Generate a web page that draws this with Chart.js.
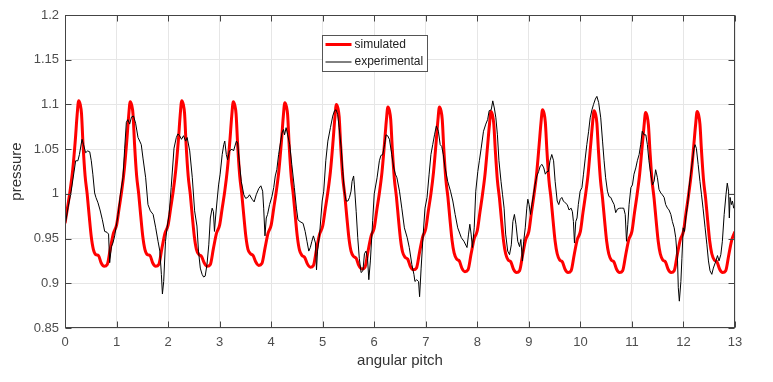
<!DOCTYPE html>
<html lang="en">
<head>
    <meta charset="UTF-8">
    <title>Pressure vs angular pitch</title>
    <script src="https://cdn.jsdelivr.net/npm/chart.js"></script>
    <style>
        html, body {
            margin: 0;
            padding: 0;
            background: #fff;
        }

        #wrap {
            width: 773px;
            height: 382px;
            position: relative;
        }
    </style>
</head>
<body>
    <div id="wrap"><canvas id="chart"></canvas></div>
    <script>
        // axis ticks
        const xTicks = [0, 1, 2, 3, 4, 5, 6, 7, 8, 9, 10, 11, 12, 13];
        const yTicks = [0.85, 0.9, 0.95, 1, 1.05, 1.1, 1.15, 1.2];

        // simulated: sample positions inside one angular pitch, then values per pitch
        const simPhase = [0, 0.05, 0.1, 0.15, 0.2, 0.235, 0.265, 0.295, 0.32, 0.35, 0.39,
                          0.43, 0.47, 0.51, 0.55, 0.6, 0.65, 0.7, 0.76, 0.82, 0.88, 0.94];
        const simCycles = [
            [0.967, 0.985, 1.004, 1.027, 1.06, 1.088, 1.104, 1.1, 1.09, 1.055, 1.02, 1.0, 0.975, 0.952, 0.938, 0.932, 0.931, 0.923, 0.919, 0.921, 0.939, 0.956],
            [0.965, 0.984, 1.003, 1.027, 1.06, 1.087, 1.103, 1.099, 1.089, 1.055, 1.02, 1.0, 0.975, 0.952, 0.938, 0.932, 0.931, 0.923, 0.919, 0.921, 0.939, 0.956],
            [0.965, 0.984, 1.003, 1.027, 1.06, 1.088, 1.104, 1.1, 1.09, 1.055, 1.02, 1.0, 0.975, 0.952, 0.938, 0.932, 0.93, 0.923, 0.919, 0.921, 0.939, 0.956],
            [0.965, 0.984, 1.003, 1.027, 1.06, 1.087, 1.103, 1.099, 1.089, 1.055, 1.02, 1.0, 0.975, 0.952, 0.938, 0.933, 0.931, 0.924, 0.92, 0.922, 0.939, 0.956],
            [0.965, 0.984, 1.003, 1.026, 1.059, 1.086, 1.102, 1.098, 1.088, 1.054, 1.019, 0.999, 0.974, 0.951, 0.937, 0.931, 0.929, 0.922, 0.918, 0.92, 0.938, 0.955],
            [0.964, 0.983, 1.002, 1.025, 1.058, 1.084, 1.1, 1.096, 1.086, 1.053, 1.018, 0.998, 0.973, 0.95, 0.936, 0.93, 0.928, 0.92, 0.916, 0.918, 0.936, 0.953],
            [0.962, 0.982, 1.001, 1.024, 1.057, 1.082, 1.097, 1.093, 1.083, 1.051, 1.017, 0.997, 0.972, 0.949, 0.935, 0.929, 0.927, 0.919, 0.915, 0.917, 0.935, 0.952],
            [0.961, 0.981, 1.0, 1.024, 1.057, 1.082, 1.097, 1.093, 1.083, 1.05, 1.016, 0.996, 0.971, 0.948, 0.934, 0.927, 0.925, 0.917, 0.913, 0.915, 0.933, 0.95],
            [0.959, 0.979, 0.999, 1.022, 1.054, 1.077, 1.092, 1.088, 1.078, 1.048, 1.015, 0.995, 0.97, 0.947, 0.933, 0.926, 0.924, 0.916, 0.912, 0.914, 0.932, 0.949],
            [0.958, 0.979, 0.999, 1.022, 1.055, 1.079, 1.094, 1.09, 1.08, 1.049, 1.015, 0.995, 0.97, 0.947, 0.933, 0.926, 0.924, 0.916, 0.912, 0.914, 0.932, 0.949],
            [0.958, 0.979, 0.999, 1.022, 1.055, 1.078, 1.093, 1.089, 1.079, 1.049, 1.015, 0.995, 0.97, 0.947, 0.933, 0.926, 0.924, 0.916, 0.912, 0.914, 0.932, 0.949],
            [0.958, 0.979, 0.999, 1.022, 1.054, 1.076, 1.091, 1.087, 1.077, 1.048, 1.015, 0.995, 0.97, 0.947, 0.933, 0.926, 0.924, 0.916, 0.912, 0.914, 0.932, 0.949],
            [0.958, 0.979, 0.999, 1.022, 1.054, 1.077, 1.092, 1.088, 1.078, 1.048, 1.015, 0.995, 0.97, 0.947, 0.933, 0.926, 0.924, 0.916, 0.912, 0.914, 0.932, 0.949]
        ];
        const simEnd = 0.958;

        // experimental trace
        const expX = [
            0, 0.06, 0.12, 0.207, 0.25, 0.28, 0.33, 0.36, 0.4, 0.44, 0.48, 0.51, 0.54, 0.575, 0.6, 0.64, 0.68, 0.725, 0.77, 0.815, 0.845, 0.867, 0.9, 0.93, 0.964,
            1.03, 1.074, 1.125, 1.158, 1.19, 1.22, 1.255, 1.29, 1.33, 1.37, 1.417, 1.45, 1.48, 1.513, 1.565, 1.61, 1.656, 1.71, 1.76, 1.805, 1.84, 1.87, 1.89, 1.915, 1.95, 1.98,
            2.02, 2.06, 2.115, 2.16, 2.19, 2.225, 2.26, 2.3, 2.34, 2.37, 2.42, 2.47, 2.515, 2.56, 2.59, 2.625, 2.66, 2.69, 2.72, 2.755, 2.79, 2.82, 2.855, 2.88, 2.9, 2.92, 2.95, 2.98,
            3.01, 3.05, 3.08, 3.1, 3.13, 3.155, 3.19, 3.24, 3.27, 3.325, 3.35, 3.38, 3.42, 3.47, 3.505, 3.545, 3.58, 3.63, 3.67, 3.71, 3.76, 3.8, 3.835, 3.855, 3.88, 3.905, 3.93, 3.97,
            4.015, 4.05, 4.08, 4.11, 4.145, 4.18, 4.21, 4.24, 4.26, 4.29, 4.32, 4.36, 4.4, 4.45, 4.49, 4.52, 4.56, 4.62, 4.66, 4.695, 4.73, 4.76, 4.79, 4.82, 4.86, 4.88, 4.9, 4.94, 4.99,
            5.02, 5.06, 5.1, 5.15, 5.195, 5.23, 5.26, 5.29, 5.32, 5.36, 5.39, 5.42, 5.455, 5.49, 5.52, 5.55, 5.57, 5.6, 5.615, 5.65, 5.68, 5.71, 5.745, 5.78, 5.81, 5.84, 5.87, 5.895, 5.925, 5.97,
            6.0, 6.055, 6.1, 6.13, 6.165, 6.2, 6.23, 6.26, 6.295, 6.34, 6.38, 6.41, 6.44, 6.49, 6.535, 6.585, 6.64, 6.68, 6.73, 6.77, 6.79, 6.825, 6.86, 6.88, 6.91, 6.95, 6.985,
            7.025, 7.065, 7.1, 7.135, 7.17, 7.205, 7.245, 7.28, 7.31, 7.34, 7.375, 7.425, 7.48, 7.525, 7.57, 7.62, 7.69, 7.74, 7.8, 7.83, 7.855, 7.88, 7.905, 7.94, 7.97,
            8.01, 8.04, 8.075, 8.12, 8.165, 8.2, 8.23, 8.27, 8.3, 8.33, 8.36, 8.39, 8.42, 8.46, 8.49, 8.52, 8.55, 8.59, 8.625, 8.66, 8.69, 8.72, 8.75, 8.785, 8.82, 8.845, 8.875, 8.9, 8.93, 8.96, 8.98,
            9.005, 9.03, 9.06, 9.09, 9.12, 9.155, 9.19, 9.22, 9.255, 9.29, 9.32, 9.35, 9.38, 9.41, 9.445, 9.48, 9.51, 9.55, 9.58, 9.61, 9.64, 9.67, 9.705, 9.745, 9.78, 9.82, 9.845, 9.865, 9.885, 9.91, 9.935, 9.96, 9.995,
            10.03, 10.06, 10.095, 10.125, 10.16, 10.19, 10.225, 10.255, 10.29, 10.32, 10.355, 10.395, 10.43, 10.46, 10.49, 10.525, 10.555, 10.59, 10.62, 10.655, 10.685, 10.72, 10.765, 10.8, 10.84, 10.87, 10.895, 10.92, 10.945, 10.98,
            11.01, 11.04, 11.075, 11.105, 11.14, 11.17, 11.2, 11.235, 11.27, 11.3, 11.33, 11.365, 11.4, 11.43, 11.46, 11.495, 11.525, 11.56, 11.59, 11.625, 11.655, 11.69, 11.72, 11.755, 11.785, 11.82, 11.85, 11.885, 11.9, 11.92, 11.95, 11.97, 11.995,
            12.02, 12.045, 12.08, 12.11, 12.14, 12.175, 12.205, 12.225, 12.25, 12.285, 12.32, 12.35, 12.38, 12.42, 12.455, 12.485, 12.515, 12.55, 12.58, 12.63, 12.66, 12.69, 12.725, 12.755, 12.79, 12.825, 12.85, 12.875, 12.89, 12.905, 12.93, 12.95, 12.975, 13.0
        ];
        const expY = [
            0.964, 0.985, 1.003, 1.037, 1.037, 1.044, 1.061, 1.055, 1.046, 1.048, 1.047, 1.037, 1.022, 1.001, 0.996, 0.99, 0.982, 0.971, 0.958, 0.957, 0.955, 0.923, 0.941, 0.945, 0.953,
            0.977, 0.999, 1.018, 1.051, 1.08, 1.083, 1.078, 1.086, 1.087, 1.079, 1.063, 1.059, 1.055, 1.04, 1.018, 0.988, 0.981, 0.977, 0.962, 0.947, 0.936, 0.91, 0.888, 0.902, 0.947, 0.962,
            0.977, 1.007, 1.051, 1.063, 1.067, 1.065, 1.061, 1.065, 1.059, 1.063, 1.048, 1.018, 0.981, 0.964, 0.936, 0.917, 0.91, 0.907, 0.908, 0.921, 0.943, 0.973, 0.984, 0.98, 0.958, 0.973, 0.992, 1.01,
            1.022, 1.044, 1.055, 1.059, 1.044, 1.038, 1.048, 1.05, 1.048, 1.059, 1.057, 1.037, 1.014, 0.999, 0.995, 0.996, 0.999, 0.994, 0.991, 0.999, 1.006, 1.009, 1.003, 0.984, 0.953, 0.973, 0.977, 0.988,
            0.997, 1.007, 1.02, 1.027, 1.044, 1.057, 1.068, 1.072, 1.066, 1.074, 1.066, 1.055, 1.033, 1.007, 0.984, 0.971, 0.969, 0.967, 0.958, 0.947, 0.936, 0.94, 0.947, 0.953, 0.945, 0.915, 0.936, 0.955, 0.992,
            1.003, 1.037, 1.059, 1.074, 1.087, 1.093, 1.094, 1.089, 1.074, 1.051, 1.025, 1.003, 0.992, 0.992, 0.996, 1.003, 1.014, 1.02, 1.01, 0.98, 0.951, 0.928, 0.912, 0.914, 0.933, 0.936, 0.928, 0.904, 0.925, 0.97,
            1.0, 1.018, 1.037, 1.043, 1.044, 1.055, 1.066, 1.065, 1.061, 1.044, 1.029, 1.022, 1.018, 1.003, 0.984, 0.962, 0.951, 0.94, 0.921, 0.91, 0.902, 0.904, 0.902, 0.885, 0.917, 0.955, 0.984,
            0.996, 1.022, 1.044, 1.055, 1.066, 1.076, 1.07, 1.055, 1.053, 1.044, 1.029, 1.014, 1.003, 0.992, 0.977, 0.962, 0.951, 0.947, 0.94, 0.955, 0.966, 0.955, 0.94, 0.962, 1.003,
            1.025, 1.037, 1.051, 1.07, 1.078, 1.083, 1.093, 1.094, 1.104, 1.096, 1.085, 1.066, 1.037, 1.014, 0.999, 0.984, 0.955, 0.936, 0.932, 0.943, 0.969, 0.977, 0.966, 0.947, 0.941, 0.949, 0.925, 0.947, 0.962, 0.984, 0.994,
            0.988, 0.977, 0.988, 0.999, 1.01, 1.02, 1.025, 1.031, 1.033, 1.029, 1.022, 1.025, 1.025, 1.037, 1.044, 1.037, 1.014, 0.992, 0.988, 0.994, 0.996, 0.992, 0.99, 0.988, 0.982, 0.984, 0.98, 0.969, 0.945, 0.969, 0.973, 0.988, 1.003,
            1.007, 1.022, 1.04, 1.055, 1.07, 1.085, 1.094, 1.1, 1.106, 1.109, 1.102, 1.085, 1.059, 1.037, 1.018, 1.003, 0.997, 0.996, 0.992, 0.988, 0.979, 0.983, 0.984, 0.984, 0.984, 0.977, 0.947, 0.966, 0.988, 1.007,
            1.01, 1.022, 1.029, 1.037, 1.044, 1.055, 1.07, 1.066, 1.066, 1.055, 1.037, 1.022, 1.01, 1.014, 1.027, 1.018, 1.005, 1.001, 0.999, 0.996, 0.988, 0.984, 0.982, 0.977, 0.969, 0.962, 0.951, 0.925, 0.895, 0.88, 0.902, 0.928, 0.962,
            0.958, 0.973, 0.988, 1.007, 1.022, 1.037, 1.051, 1.055, 1.051, 1.033, 1.014, 0.999, 0.984, 0.962, 0.943, 0.925, 0.914, 0.91, 0.917, 0.925, 0.931, 0.925, 0.932, 0.947, 0.977, 0.999, 1.012, 1.003, 0.973, 0.996, 0.988, 0.992, 0.984, 0.988
        ];

        const simPoints = [];
        simCycles.forEach((vals, c) => {
            vals.forEach((v, i) => simPoints.push({ x: c + simPhase[i], y: v }));
        });
        simPoints.push({ x: xTicks[xTicks.length - 1], y: simEnd });

        const expPoints = expX.map((x, i) => ({ x: x, y: expY[i] }));

        const axisColor = '#444';
        const textColor = '#4d4d4d';
        const fontFamily = '"Liberation Sans", Arial, Helvetica, sans-serif';

        // box, inward ticks and the legend inside the plot
        const framePlugin = {
            id: 'frame',
            afterDraw(chart) {
                const { ctx, chartArea: a, scales } = chart;
                const L = Math.round(a.left) + 0.5, R = Math.round(a.right) - 0.5;
                const T = Math.round(a.top) + 0.5, B = Math.round(a.bottom) - 0.5;
                ctx.save();
                ctx.strokeStyle = axisColor;
                ctx.lineWidth = 1;
                ctx.strokeRect(L, T, R - L, B - T);
                ctx.beginPath();
                xTicks.forEach(t => {
                    const px = Math.round(scales.x.getPixelForValue(t)) + 0.5;
                    ctx.moveTo(px, B); ctx.lineTo(px, B - 6);
                    ctx.moveTo(px, T); ctx.lineTo(px, T + 6);
                });
                yTicks.forEach(t => {
                    const py = Math.round(scales.y.getPixelForValue(t)) + 0.5;
                    ctx.moveTo(L, py); ctx.lineTo(L + 6, py);
                    ctx.moveTo(R, py); ctx.lineTo(R - 6, py);
                });
                ctx.stroke();

                // legend
                const bx = 322.5, by = 35.5, bw = 105, bh = 36;
                ctx.fillStyle = '#fff';
                ctx.fillRect(bx, by, bw, bh);
                ctx.strokeStyle = '#555';
                ctx.strokeRect(bx, by, bw, bh);
                ctx.font = '12px ' + fontFamily;
                ctx.textBaseline = 'middle';
                chart.data.datasets.forEach((ds, i) => {
                    const ly = by + 9 + i * 17.5;
                    ctx.strokeStyle = ds.borderColor;
                    ctx.lineWidth = ds.borderWidth;
                    ctx.beginPath();
                    ctx.moveTo(bx + 3, ly);
                    ctx.lineTo(bx + 29, ly);
                    ctx.stroke();
                    ctx.fillStyle = '#222';
                    ctx.fillText(ds.label, bx + 32, ly);
                });
                ctx.restore();
            }
        };

        new Chart(document.getElementById('chart'), {
            type: 'line',
            data: {
                datasets: [
                    {
                        label: 'simulated',
                        data: simPoints,
                        borderColor: '#ff0000',
                        borderWidth: 3,
                        pointRadius: 0,
                        cubicInterpolationMode: 'monotone',
                        order: 1
                    },
                    {
                        label: 'experimental',
                        data: expPoints,
                        borderColor: '#000000',
                        borderWidth: 1,
                        pointRadius: 0,
                        tension: 0,
                        order: 0
                    }
                ]
            },
            options: {
                responsive: true,
                maintainAspectRatio: false,
                animation: false,
                events: [],
                layout: { padding: { top: 15, right: 38, left: 0, bottom: 0 } },
                plugins: {
                    legend: { display: false },
                    tooltip: { enabled: false }
                },
                scales: {
                    x: {
                        type: 'linear',
                        min: 0,
                        max: 13,
                        afterFit: s => { s.height = 54; },
                        afterBuildTicks: s => { s.ticks = xTicks.map(v => ({ value: v })); },
                        grid: { color: '#e6e6e6', drawTicks: false },
                        border: { display: false },
                        ticks: {
                            padding: 7,
                            color: textColor,
                            font: { size: 13, family: fontFamily },
                            maxRotation: 0
                        },
                        title: {
                            display: true,
                            text: 'angular pitch',
                            color: '#333',
                            font: { size: 15, family: fontFamily },
                            padding: { top: 0, bottom: 12 }
                        }
                    },
                    y: {
                        min: 0.85,
                        max: 1.2,
                        afterFit: s => { s.width = 65; },
                        afterBuildTicks: s => { s.ticks = yTicks.map(v => ({ value: v })); },
                        grid: { color: '#e6e6e6', drawTicks: false },
                        border: { display: false },
                        ticks: {
                            padding: 6,
                            color: textColor,
                            font: { size: 13, family: fontFamily },
                            callback: v => String(Number(v.toFixed(2)))
                        },
                        title: {
                            display: true,
                            text: 'pressure',
                            color: '#333',
                            font: { size: 15, family: fontFamily },
                            padding: { top: 8, bottom: 0 }
                        }
                    }
                }
            },
            plugins: [framePlugin]
        });
    </script>
</body>
</html>
